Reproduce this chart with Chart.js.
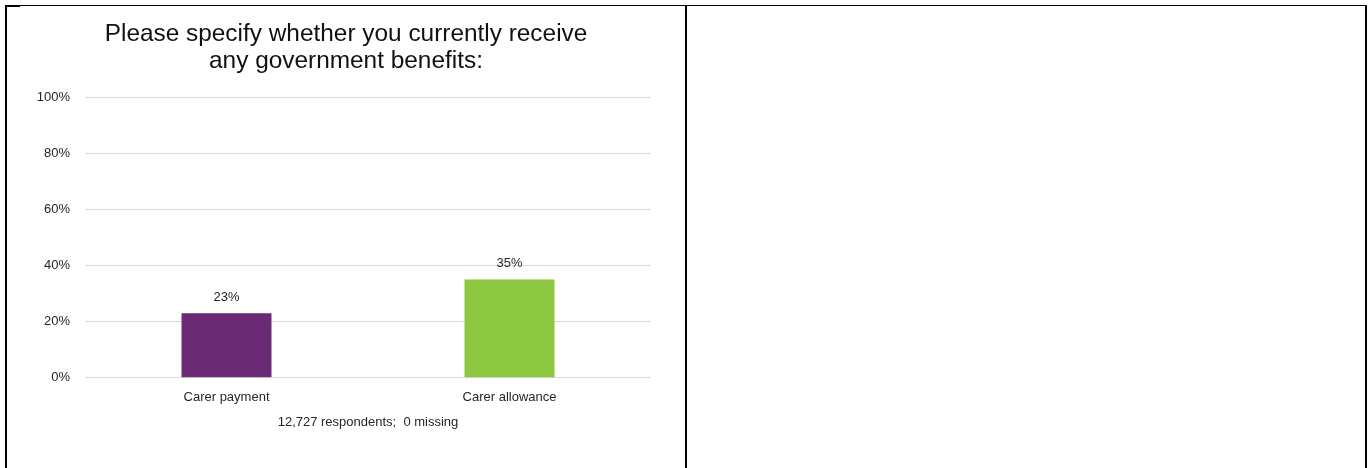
<!DOCTYPE html>
<html>
<head>
<meta charset="utf-8">
<title>Government benefits</title>
<script src="https://cdn.jsdelivr.net/npm/chart.js@4.4.1/dist/chart.umd.min.js"></script>
<style>
    html, body {
        margin: 0;
        padding: 0;
        background: #ffffff;
        width: 1370px;
        height: 468px;
        overflow: hidden;
    }
    .rule {
        position: absolute;
        background: #000000;
    }
    #benefitsChart {
        position: absolute;
        left: 7px;
        top: 7px;
    }
</style>
</head>
<body>
    <!-- table frame: two cells, chart in the left one -->
    <div class="rule" style="left:5px; top:5px; width:1362px; height:1px;"></div>
    <div class="rule" style="left:5px; top:5px; width:15px; height:2px;"></div>
    <div class="rule" style="left:5px; top:5px; width:2px; height:463px;"></div>
    <div class="rule" style="left:685px; top:5px; width:2px; height:463px;"></div>
    <div class="rule" style="left:1365px; top:5px; width:2px; height:463px;"></div>

    <canvas id="benefitsChart" width="678" height="461"></canvas>

<script>
// Survey data
const categories = ['Carer payment', 'Carer allowance'];
const percentages = [23, 35];
const barColors = ['#6B2A75', '#8DC63F'];
const yTicks = [0, 20, 40, 60, 80, 100];
const chartTitle = ['Please specify whether you currently receive', 'any government benefits:'];
const respondentsNote = '12,727 respondents;  0 missing';

const FONT = "'Liberation Sans', Arial, sans-serif";

// Writes the percentage above each bar
const valueLabels = {
    id: 'valueLabels',
    afterDatasetsDraw(chart) {
        const ctx = chart.ctx;
        const meta = chart.getDatasetMeta(0);
        ctx.save();
        ctx.font = '13px ' + FONT;
        ctx.fillStyle = '#262626';
        ctx.textAlign = 'center';
        ctx.textBaseline = 'middle';
        meta.data.forEach((bar, i) => {
            ctx.fillText(percentages[i] + '%', bar.x, bar.y - 16);
        });
        ctx.restore();
    }
};

document.addEventListener('DOMContentLoaded', function() {
    const canvas = document.getElementById('benefitsChart');

    new Chart(canvas, {
        type: 'bar',
        data: {
            labels: categories,
            datasets: [{
                data: percentages,
                backgroundColor: barColors,
                borderWidth: 0,
                barPercentage: 0.318,
                categoryPercentage: 1.0
            }]
        },
        options: {
            responsive: false,
            devicePixelRatio: 1,
            animation: false,
            layout: {
                padding: { left: 0, right: 0, top: 0, bottom: 38 }
            },
            plugins: {
                legend: { display: false },
                tooltip: { enabled: false },
                title: {
                    display: true,
                    text: chartTitle,
                    color: '#111111',
                    font: { family: FONT, size: 24.4, weight: 'normal', lineHeight: 1.1 },
                    padding: { top: 14, bottom: 22.5 }
                }
            },
            scales: {
                x: {
                    grid: { display: false, drawTicks: false },
                    border: { display: false },
                    ticks: {
                        color: '#262626',
                        font: { family: FONT, size: 13 },
                        padding: 12
                    },
                    title: {
                        display: true,
                        text: respondentsNote,
                        color: '#262626',
                        font: { family: FONT, size: 13 },
                        padding: { top: -3, bottom: 0 }
                    }
                },
                y: {
                    min: 0,
                    max: 100,
                    afterBuildTicks: function(scale) {
                        scale.ticks = yTicks.map(v => ({ value: v }));
                    },
                    afterFit: function(scale) {
                        scale.width = 78;
                    },
                    grid: {
                        color: '#D9D9D9',
                        lineWidth: 1,
                        drawTicks: false
                    },
                    border: { display: false },
                    ticks: {
                        color: '#262626',
                        font: { family: FONT, size: 13 },
                        padding: 15,
                        callback: function(value) {
                            return value + '%';
                        }
                    }
                },
                // empty right-hand axis, only reserves the margin beside the plot
                yRight: {
                    position: 'right',
                    min: 0,
                    max: 100,
                    grid: { display: false, drawTicks: false },
                    border: { display: false },
                    ticks: { display: false },
                    afterFit: function(scale) {
                        scale.width = 34;
                    }
                }
            }
        },
        plugins: [valueLabels]
    });
});
</script>
</body>
</html>
